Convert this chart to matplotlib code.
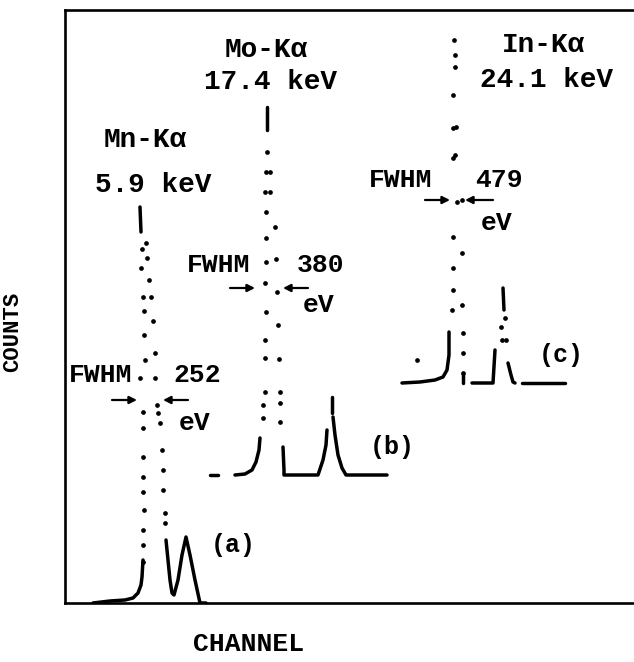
import matplotlib.pyplot as plt
import numpy as np

# spectra; channel in arbitrary units, counts above each trace's own baseline
# (a) Mn-Ka 5.9 keV
mn_dot_ch = [77, 76, 78, 79, 79, 80, 75, 78, 78, 78, 78, 78, 79, 78, 78, 78,
             81, 82, 84, 86, 88, 90, 90, 92, 93, 95, 97, 98, 98, 100, 100]
mn_dot_ct = [354, 335, 306, 292, 268, 243, 225, 191, 175, 146, 126, 111, 93, 73, 58, 41,
             360, 345, 323, 306, 282, 250, 225, 198, 190, 180, 153, 133, 113, 90, 80]
mn_line_ch = [[75, 76],
              [28, 45, 60, 68, 73, 76, 77, 78],
              [101, 103, 105, 107, 109, 113, 117, 121, 125, 130, 135, 141]]
mn_line_ct = [[396, 371],
              [0, 2, 3, 5, 10, 18, 26, 43],
              [63, 43, 23, 10, 8, 23, 48, 66, 48, 23, 0, 0]]

# (b) Mo-Ka 17.4 keV
mo_dot_ch = [202, 201, 200, 201, 201, 201, 200, 201, 200, 200, 200, 198, 198,
             205, 205, 210, 211, 212, 213, 214, 215, 215, 215]
mo_dot_ct = [323, 303, 283, 263, 237, 213, 192, 163, 135, 117, 83, 70, 57,
             303, 283, 248, 216, 183, 150, 116, 83, 72, 53]
mo_line_ch = [[145, 153],
              [170, 180, 187, 191, 194, 195],
              [202, 202],
              [218, 219, 219, 253, 258, 261, 262],
              [267, 267],
              [268, 270, 273, 277, 281, 322]]
mo_line_ct = [[0, 0],
              [0, 1, 5, 13, 25, 37],
              [368, 345],
              [28, 5, 0, 0, 15, 30, 45],
              [78, 62],
              [58, 40, 20, 7, 0, 0]]

# (c) In-Ka 24.1 keV
in_dot_ch = [389, 390, 390, 388, 388, 388, 392, 388, 388, 388, 387, 352,
             391, 390, 397, 397, 397, 398, 398, 398,
             440, 436, 437, 441]
in_dot_ct = [343, 328, 316, 288, 255, 225, 181, 146, 115, 93, 73, 23,
             256, 228, 183, 130, 78, 50, 30, 10,
             65, 56, 43, 43]
in_line_ch = [[337, 355, 370, 378, 382, 384, 384],
              [398, 398],
              [407, 428, 430],
              [438, 439],
              [443, 446, 448, 450],
              [457, 500]]
in_line_ct = [[0, 1, 3, 6, 13, 28, 51],
              [10, 0],
              [0, 0, 33],
              [95, 73],
              [20, 8, 1, 0],
              [0, 0]]

spectra = [
    (mn_dot_ch, mn_dot_ct, mn_line_ch, mn_line_ct, 0),
    (mo_dot_ch, mo_dot_ct, mo_line_ch, mo_line_ct, 128),
    (in_dot_ch, in_dot_ct, in_line_ch, in_line_ct, 220),
]

font = 'Liberation Mono'

fig = plt.figure(figsize=(6.34, 6.62), dpi=100)
ax = fig.add_axes([65 / 634, 59 / 662, 569 / 634, 593 / 662])
ax.set_xlim(0, 569)
ax.set_ylim(0, 593)

for dot_ch, dot_ct, line_ch, line_ct, base in spectra:
    ax.plot(dot_ch, np.array(dot_ct) + base, 'o', color='black', ms=3.4, mew=0)
    for ch, ct in zip(line_ch, line_ct):
        ax.plot(ch, np.array(ct) + base, '-', color='black', lw=2.5,
                solid_capstyle='round', solid_joinstyle='round')

# labels on the peaks
txt = dict(family=font, fontweight='bold', ha='center', va='center', color='black')
ax.text(80, 463, 'Mn-K\u03b1', fontsize=20, **txt)
ax.text(88, 418, '5.9 keV', fontsize=20, **txt)
ax.text(201, 553, 'Mo-K\u03b1', fontsize=20, **txt)
ax.text(206, 521, '17.4 keV', fontsize=20, **txt)
ax.text(478, 558, 'In-K\u03b1', fontsize=20, **txt)
ax.text(481, 523, '24.1 keV', fontsize=20, **txt)

# FWHM marks
fwhm = [
    # label x, label y, value x, eV y, arrow y, left arrow (from, to), right arrow (from, to), value
    (36, 228, 132, 180, 203, (47, 72), (123, 98), '252'),
    (154, 338, 256, 298, 315, (165, 190), (243, 218), '380'),
    (336, 423, 434, 380, 403, (360, 385), (428, 400), '479'),
]
for lx, ly, vx, ey, ay, la, ra, val in fwhm:
    ax.text(lx, ly, 'FWHM', fontsize=19, **txt)
    ax.text(vx, ly, val, fontsize=19, **txt)
    ax.text(vx - 2, ey, 'eV', fontsize=19, **txt)
    for a0, a1 in (la, ra):
        ax.annotate('', xy=(a1, ay), xytext=(a0, ay),
                    arrowprops=dict(arrowstyle='-|>', color='black', lw=1.6,
                                    mutation_scale=11, shrinkA=0, shrinkB=0))

ax.text(168, 58, '(a)', fontsize=18, **txt)
ax.text(327, 156, '(b)', fontsize=18, **txt)
ax.text(496, 248, '(c)', fontsize=18, **txt)

ax.set_xticks([])
ax.set_yticks([])
ax.spines['right'].set_visible(False)
for s in ['left', 'top', 'bottom']:
    ax.spines[s].set_linewidth(1.9)

ax.set_xlabel('CHANNEL', family=font, fontweight='bold', fontsize=19)
ax.set_ylabel('COUNTS', family=font, fontweight='bold', fontsize=16)
ax.xaxis.set_label_coords(0.322, -0.049)
ax.yaxis.set_label_coords(-0.074, 0.457)

fig.savefig('out.png', dpi=100, facecolor='white')
